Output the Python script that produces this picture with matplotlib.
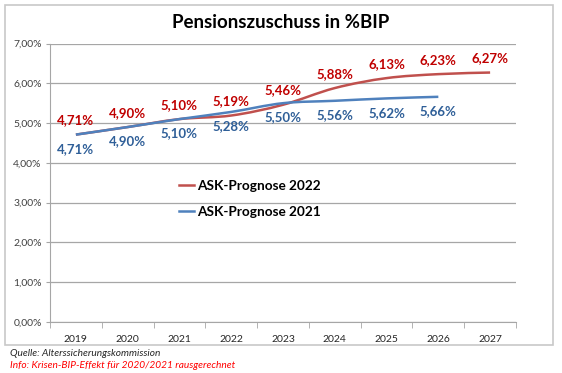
import matplotlib
matplotlib.use("Agg")
import matplotlib.pyplot as plt
import numpy as np
from matplotlib.path import Path
from matplotlib.patches import PathPatch, Rectangle

# Daten
jahre = ["2019", "2020", "2021", "2022", "2023", "2024", "2025", "2026", "2027"]
prognose_2022 = [4.71, 4.90, 5.10, 5.19, 5.46, 5.88, 6.13, 6.23, 6.27]
prognose_2021 = [4.71, 4.90, 5.10, 5.28, 5.50, 5.56, 5.62, 5.66]
yticks = [0, 1, 2, 3, 4, 5, 6, 7]

rot_linie = "#C0504D"
blau_linie = "#4F81BD"
rot_text = "#C00000"
blau_text = "#2F5F98"

plt.rcParams['font.family'] = ['Lato', 'DejaVu Sans']


def glatt(ax, xs, ys, farbe, label):
    # Excel-artige Glaettung (Catmull-Rom als Bezier)
    xs = np.asarray(xs, float)
    ys = np.asarray(ys, float)
    pts = np.column_stack([xs, ys])
    verts = [pts[0]]
    codes = [Path.MOVETO]
    n = len(pts)
    for i in range(n - 1):
        p0 = pts[i - 1] if i > 0 else pts[i]
        p1 = pts[i]
        p2 = pts[i + 1]
        p3 = pts[i + 2] if i + 2 < n else pts[i + 1]
        c1 = p1 + (p2 - p0) / 6.0
        c2 = p2 - (p3 - p1) / 6.0
        verts += [c1, c2, p2]
        codes += [Path.CURVE4] * 3
    ax.add_patch(PathPatch(Path(verts, codes), facecolor="none", edgecolor=farbe, lw=1.8, zorder=3))
    ax.plot([], [], color=farbe, lw=1.8, label=label)


def fmt(v):
    return f"{v:.2f}".replace(".", ",") + "%"


fig = plt.figure(figsize=(5.62, 3.73), dpi=100)
W, H = 562, 373
ax = fig.add_axes([50 / W, 1 - 322 / H, 466 / W, 278.5 / H])

# Rahmen
fig.patches.append(Rectangle((5 / W, 1 - 345 / H), 548 / W, 340 / H, transform=fig.transFigure,
                             facecolor="none", edgecolor="#C8C8C8", lw=1.2))

x = np.arange(len(jahre))
glatt(ax, x, prognose_2022, rot_linie, "ASK-Prognose 2022")
glatt(ax, x[:len(prognose_2021)], prognose_2021, blau_linie, "ASK-Prognose 2021")

for xi, v in zip(x, prognose_2022):
    ax.annotate(fmt(v), (xi, v), xytext=(0, 6), textcoords="offset points", ha="center", va="bottom",
                color=rot_text, fontsize=9.5, fontweight="bold")
for xi, v in zip(x, prognose_2021):
    ax.annotate(fmt(v), (xi, v), xytext=(0, -6), textcoords="offset points", ha="center", va="top",
                color=blau_text, fontsize=9.5, fontweight="bold")

ax.set_xlim(-0.5, len(jahre) - 0.5)
ax.set_ylim(0, 7)
ax.set_yticks(yticks)
ax.set_yticklabels([f"{t},00%" for t in yticks], fontsize=7.5, color="#404040")
ax.yaxis.grid(True, color="#A6A6A6", lw=0.9)
ax.set_axisbelow(True)

ax.set_xticks(x)
ax.set_xticklabels(jahre, fontsize=7.5, color="#262626")
ax.set_xticks(np.arange(-0.5, len(jahre)), minor=True)
ax.tick_params(axis="x", which="major", length=0, pad=9)
ax.tick_params(axis="x", which="minor", length=4, color="#A6A6A6")
ax.tick_params(axis="y", length=3, color="#A6A6A6", pad=3)

for s in ["top", "right"]:
    ax.spines[s].set_visible(False)
for s in ["left", "bottom"]:
    ax.spines[s].set_color("#A6A6A6")

leg = ax.legend(loc="upper left", bbox_to_anchor=(0.25, 0.555), frameon=False,
                prop={"weight": "bold", "size": 9.8}, handlelength=1.1, handletextpad=0.25,
                labelspacing=1.05)

fig.text(281 / W, 1 - 22 / H, "Pensionszuschuss in %BIP", ha="center", va="center",
         fontsize=13.5, fontweight="bold", color="black")
fig.text(10 / W, 1 - 353 / H, "Quelle: Alterssicherungskommission", ha="left", va="center",
         fontsize=7.3, style="italic", color="#262626")
fig.text(10 / W, 1 - 366 / H, "Info: Krisen-BIP-Effekt für 2020/2021 rausgerechnet", ha="left", va="center",
         fontsize=7.3, style="italic", color="#FF0000")

fig.savefig("out.png", dpi=100)
